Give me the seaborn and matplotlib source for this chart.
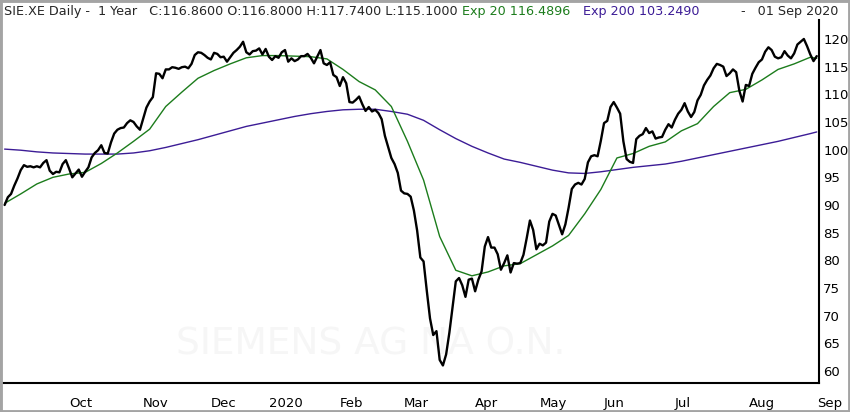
import numpy as np
import pandas as pd
import seaborn as sns
import matplotlib.pyplot as plt
from matplotlib.patches import Rectangle

# daily closes, one per trading session (Sep 2019 -> 1 Sep 2020)
close_sep = [90.0, 91.4, 92.0, 93.5, 94.8, 96.3, 97.2, 96.9, 97.0, 96.8,
             97.0, 96.8, 97.6, 98.1, 96.2, 95.6, 96.0, 95.9, 97.4, 98.1]
close_oct = [96.6, 95.0, 95.7, 96.4, 95.1, 96.0, 96.8, 98.6, 99.4, 99.9, 100.8, 99.4,
             99.3, 101.3, 102.9, 103.6, 103.9, 104.0, 104.8, 105.3, 105.0, 104.2, 103.6]
close_nov = [105.6, 107.6, 108.7, 109.5, 113.8, 113.7, 112.9, 114.5, 114.5, 114.9, 114.8,
             114.6, 114.9, 115.0, 114.7, 115.5, 117.1, 117.6, 117.5, 117.1, 116.6]
close_dec = [116.3, 117.5, 117.3, 116.7, 116.8, 115.9, 116.7, 117.5, 118.0, 118.6,
             119.5, 117.6, 117.2, 117.8, 117.9, 118.3, 117.2, 118.2]
close_jan = [116.8, 116.2, 116.9, 116.6, 117.6, 118.0, 115.9, 116.5, 116.0, 116.3, 116.9,
             116.9, 117.3, 116.6, 115.6, 116.8, 118.0, 115.6, 115.3, 115.8, 113.5, 113.1]
close_feb = [111.5, 113.1, 112.0, 108.6, 108.5, 109.0, 109.6, 108.2, 107.0, 107.7,
             106.9, 107.2, 106.6, 105.5, 102.5, 100.5, 98.5, 97.4, 95.8, 92.6]
close_mar = [92.1, 92.0, 91.5, 89.0, 85.4, 80.5, 79.8, 74.5, 69.5, 66.5, 67.2,
             62.0, 61.0, 63.0, 66.9, 71.5, 76.2, 76.8, 75.5, 73.4, 76.5, 76.7]
close_apr = [74.4, 76.5, 78.0, 82.5, 84.2, 82.3, 82.3, 81.1, 78.3, 79.5,
             80.9, 77.8, 79.5, 79.4, 79.5, 81.0, 84.0, 87.2, 85.5, 82.0]
close_may = [83.0, 82.7, 83.2, 87.0, 88.4, 88.1, 86.4, 84.7, 86.5, 89.5,
             92.9, 93.7, 94.0, 93.7, 94.7, 97.7, 98.8, 99.0, 98.8, 101.6]
close_jun = [104.8, 105.2, 107.7, 108.6, 107.6, 106.5, 101.5, 98.3, 97.8, 97.6, 101.9,
             102.5, 102.8, 103.9, 103.0, 103.3, 102.0, 102.2, 102.3, 103.6, 104.6, 104.0]
close_jul = [105.4, 106.5, 107.2, 108.4, 106.9, 105.9, 106.8, 108.9, 109.9, 111.6, 112.6, 113.4,
             114.7, 115.5, 115.3, 115.0, 113.3, 113.8, 114.5, 114.0, 110.6, 108.7, 111.7]
close_aug = [111.5, 113.7, 114.8, 115.8, 116.3, 117.7, 118.5, 118.0, 116.8, 116.5, 116.7,
             117.8, 117.0, 116.5, 117.4, 119.0, 119.5, 120.0, 118.7, 117.2, 116.0, 116.9]

# moving averages, read every 5th session (plus the last one)
ema20 = [90.3, 92.0, 93.8, 95.0, 95.6, 95.9, 97.5, 99.4, 101.5, 103.7,
         107.8, 110.4, 112.9, 114.3, 115.5, 116.6, 117.0, 117.0, 116.9, 116.8,
         116.4, 114.5, 112.3, 110.8, 107.8, 101.5, 94.5, 84.3, 78.2, 77.2,
         77.9, 79.0, 79.4, 81.0, 82.6, 84.5, 88.4, 92.8, 98.5, 99.3,
         100.6, 101.4, 103.4, 104.7, 107.8, 110.3, 110.9, 112.6, 114.5, 115.5,
         116.7, 116.5]
ema200 = [100.1, 99.9, 99.6, 99.4, 99.3, 99.2, 99.2, 99.2, 99.4, 99.8,
          100.4, 101.1, 101.8, 102.6, 103.4, 104.2, 104.8, 105.4, 106.0, 106.5,
          106.9, 107.2, 107.3, 107.3, 106.9, 106.4, 105.3, 103.6, 102.0, 100.6,
          99.4, 98.3, 97.7, 97.0, 96.3, 95.8, 95.7, 96.0, 96.4, 96.8,
          97.1, 97.4, 97.9, 98.5, 99.1, 99.7, 100.3, 100.9, 101.5, 102.2,
          102.9, 103.2]

holidays = ['2019-12-24', '2019-12-25', '2019-12-26', '2019-12-31', '2020-01-01',
            '2020-04-10', '2020-04-13', '2020-05-01']

close = (close_sep + close_oct + close_nov + close_dec + close_jan + close_feb +
         close_mar + close_apr + close_may + close_jun + close_jul + close_aug)

days = pd.bdate_range('2019-09-03', '2020-09-01')
days = days[~days.isin(pd.to_datetime(holidays))]
n = len(days)

df = pd.DataFrame({'session': np.arange(n), 'date': days, 'close': close[:n]})
ema_idx = list(range(0, n, 5)) + [n - 1]
ema = pd.DataFrame({'session': ema_idx, 'ema20': ema20, 'ema200': ema200})

GREEN = '#1c7c1c'
PURPLE = '#3c1c96'

sns.set_style('white')
plt.rcParams['font.family'] = ['DejaVu Sans']

fig = plt.figure(figsize=(8.5, 4.12), dpi=100)
ax = fig.add_axes([3 / 850, 1 - 383 / 412, 816 / 850, 363 / 412])

ax.text(0.45, 0.105, 'SIEMENS AG NA O.N.', transform=ax.transAxes, ha='center',
        va='center', fontsize=27, color='#f6f6f6', zorder=0)

sns.lineplot(data=ema, x='session', y='ema200', color=PURPLE, lw=1.0, ax=ax)
sns.lineplot(data=ema, x='session', y='ema20', color=GREEN, lw=1.0, ax=ax)
sns.lineplot(data=df, x='session', y='close', color='black', lw=1.7, ax=ax)

ax.set_xlim(-0.5, n - 0.3)
ax.set_ylim(57.83, 123.43)

# month ticks at first session of each month
firsts = df.groupby(df['date'].dt.to_period('M'))['session'].min()
firsts = firsts.iloc[1:]
labels = ['2020' if p.month == 1 else p.strftime('%b') for p in firsts.index]
ax.set_xticks(firsts.values)
ax.set_xticklabels(labels)
for lab in ax.get_xticklabels():
    lab.set_ha('left')

ax.yaxis.tick_right()
ax.set_yticks(range(60, 121, 5))
ax.tick_params(axis='y', length=0, pad=3, labelsize=9.5, colors='black')
ax.tick_params(axis='x', length=8, width=1.5, direction='out', pad=2,
               labelsize=9.5, colors='black')
ax.set_xlabel('')
ax.set_ylabel('')
for s in ['left', 'top']:
    ax.spines[s].set_visible(False)
for s in ['right', 'bottom']:
    ax.spines[s].set_color('black')
    ax.spines[s].set_linewidth(1.5)

# header line
ytxt = 1 - 11 / 412
hsize = 9.2
fig.text(4 / 850, ytxt, 'SIE.XE Daily -  1 Year   C:116.8600 O:116.8000 H:117.7400 L:115.1000',
         fontsize=hsize, va='center', ha='left')
fig.text(462 / 850, ytxt, 'Exp 20 116.4896', fontsize=hsize, va='center', ha='left', color=GREEN)
fig.text(583 / 850, ytxt, 'Exp 200 103.2490', fontsize=hsize, va='center', ha='left', color=PURPLE)
fig.text(838 / 850, ytxt, '-   01 Sep 2020', fontsize=hsize, va='center', ha='right')

fig.patches.append(Rectangle((0, 0), 1, 1, transform=fig.transFigure, fill=False,
                             edgecolor='#a4a4a4', lw=3.5))

fig.savefig('out.png', dpi=100)
